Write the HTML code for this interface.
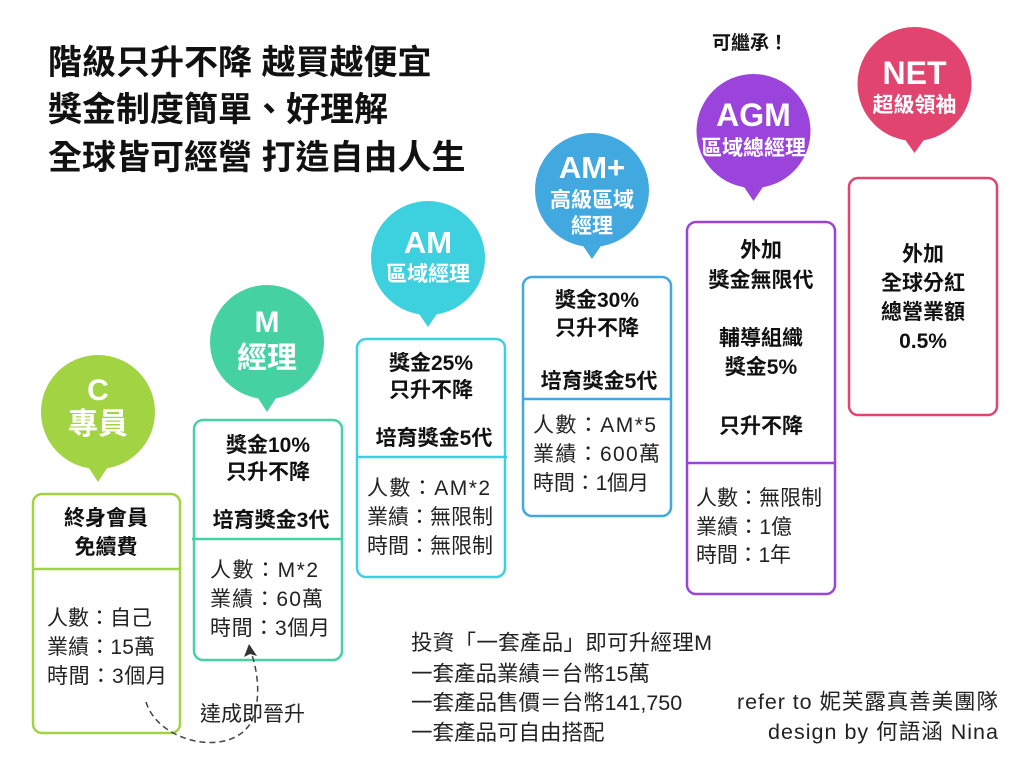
<!DOCTYPE html>
<html>
<head>
<meta charset="utf-8">
<style>
html,body{margin:0;padding:0;background:#fff;}
svg{display:block;}
text{font-family:"Liberation Sans","Noto Sans CJK TC","Noto Sans CJK SC",sans-serif;}
.t{font-weight:700;font-size:34px;fill:#111;}
.bw{font-weight:700;fill:#fff;text-anchor:middle;}
.bb{font-weight:700;font-size:21px;fill:#111;text-anchor:middle;}
.r{font-weight:400;font-size:21px;fill:#222;}
.n{font-weight:400;font-size:21.5px;fill:#222;}
</style>
</head>
<body>
<svg width="1024" height="768" viewBox="0 0 1024 768" xmlns="http://www.w3.org/2000/svg">
<rect width="1024" height="768" fill="#fff"/>

<!-- Title -->
<text class="t" x="48" y="74">階級只升不降 越買越便宜</text>
<text class="t" x="48" y="121">獎金制度簡單、好理解</text>
<text class="t" x="48" y="169">全球皆可經營 打造自由人生</text>

<text x="712" y="49" style="font-weight:700;font-size:19px;fill:#111;">可繼承！</text>

<!-- C -->
<circle cx="98" cy="412" r="57" fill="#a2d343"/>
<polygon points="85,462 111,462 98,482" fill="#a2d343"/>
<text class="bw" x="98" y="400" font-size="30">C</text>
<text class="bw" x="98" y="434" font-size="30">專員</text>
<rect x="33" y="494" width="147" height="239" rx="9" fill="#fff" stroke="#a2d343" stroke-width="2.5"/>
<line x1="33" y1="569" x2="180" y2="569" stroke="#a2d343" stroke-width="2.5"/>
<text class="bb" x="106" y="525">終身會員</text>
<text class="bb" x="106" y="554">免續費</text>
<text class="r" x="47" y="625">人數：自己</text>
<text class="r" x="47" y="654" textLength="108" lengthAdjust="spacing">業績：15萬</text>
<text class="r" x="47" y="683" textLength="120" lengthAdjust="spacing">時間：3個月</text>

<!-- M -->
<circle cx="267" cy="342" r="57" fill="#45d1a2"/>
<polygon points="254,392 280,392 267,412" fill="#45d1a2"/>
<text class="bw" x="267" y="332" font-size="30">M</text>
<text class="bw" x="267" y="368" font-size="30">經理</text>
<rect x="194" y="420" width="148" height="240" rx="9" fill="#fff" stroke="#45d1a2" stroke-width="2.5"/>
<line x1="192" y1="539" x2="342" y2="539" stroke="#45d1a2" stroke-width="2.5"/>
<text class="bb" x="268" y="452">獎金10%</text>
<text class="bb" x="268" y="479">只升不降</text>
<text class="bb" x="271" y="527">培育獎金3代</text>
<text class="r" x="210" y="577" textLength="108" lengthAdjust="spacing">人數：M*2</text>
<text class="r" x="210" y="606" textLength="113" lengthAdjust="spacing">業績：60萬</text>
<text class="r" x="210" y="635" textLength="120" lengthAdjust="spacing">時間：3個月</text>

<!-- AM -->
<circle cx="428" cy="258" r="57" fill="#3dd1e0"/>
<polygon points="415,308 441,308 428,327" fill="#3dd1e0"/>
<text class="bw" x="428" y="253" font-size="31">AM</text>
<text class="bw" x="428" y="281" font-size="21">區域經理</text>
<rect x="357" y="339" width="148" height="238" rx="9" fill="#fff" stroke="#3dd1e0" stroke-width="2.5"/>
<line x1="357" y1="457" x2="507" y2="457" stroke="#3dd1e0" stroke-width="2.5"/>
<text class="bb" x="431" y="370">獎金25%</text>
<text class="bb" x="431" y="397">只升不降</text>
<text class="bb" x="434" y="445">培育獎金5代</text>
<text class="r" x="367" y="495" textLength="123" lengthAdjust="spacing">人數：AM*2</text>
<text class="r" x="367" y="524">業績：無限制</text>
<text class="r" x="367" y="553">時間：無限制</text>

<!-- AM+ -->
<circle cx="592" cy="190" r="57" fill="#42a8e0"/>
<polygon points="579,240 605,240 592,259" fill="#42a8e0"/>
<text class="bw" x="592" y="178" font-size="31">AM+</text>
<text class="bw" x="592" y="207" font-size="21">高級區域</text>
<text class="bw" x="592" y="233" font-size="21">經理</text>
<rect x="523" y="277" width="148" height="239" rx="9" fill="#fff" stroke="#42a8e0" stroke-width="2.5"/>
<line x1="522" y1="399" x2="672" y2="399" stroke="#42a8e0" stroke-width="2.5"/>
<text class="bb" x="597" y="307">獎金30%</text>
<text class="bb" x="597" y="335">只升不降</text>
<text class="bb" x="599" y="388">培育獎金5代</text>
<text class="r" x="533" y="432" textLength="123" lengthAdjust="spacing">人數：AM*5</text>
<text class="r" x="533" y="461" textLength="127" lengthAdjust="spacing">業績：600萬</text>
<text class="r" x="533" y="490" textLength="116" lengthAdjust="spacing">時間：1個月</text>

<!-- AGM -->
<circle cx="753.5" cy="131" r="57" fill="#9b44dc"/>
<polygon points="740,181 767,181 753.5,201" fill="#9b44dc"/>
<text class="bw" x="753.5" y="126" font-size="32">AGM</text>
<text class="bw" x="753.5" y="155" font-size="21">區域總經理</text>
<rect x="687" y="222" width="148" height="372" rx="9" fill="#fff" stroke="#9b44dc" stroke-width="2.5"/>
<line x1="686" y1="463" x2="836" y2="463" stroke="#9b44dc" stroke-width="2.5"/>
<text class="bb" x="761" y="257">外加</text>
<text class="bb" x="761" y="287">獎金無限代</text>
<text class="bb" x="761" y="345">輔導組織</text>
<text class="bb" x="761" y="374">獎金5%</text>
<text class="bb" x="761" y="433">只升不降</text>
<text class="r" x="696" y="505">人數：無限制</text>
<text class="r" x="696" y="534" textLength="96" lengthAdjust="spacing">業績：1億</text>
<text class="r" x="696" y="562" textLength="95" lengthAdjust="spacing">時間：1年</text>

<!-- NET -->
<circle cx="914.5" cy="84" r="57" fill="#e0446f"/>
<polygon points="901,134 928,134 914.5,153" fill="#e0446f"/>
<text class="bw" x="914.5" y="84" font-size="32">NET</text>
<text class="bw" x="914.5" y="112" font-size="21">超級領袖</text>
<rect x="849" y="178" width="148" height="237" rx="9" fill="#fff" stroke="#e0446f" stroke-width="2.5"/>
<text class="bb" x="923" y="261">外加</text>
<text class="bb" x="923" y="290">全球分紅</text>
<text class="bb" x="923" y="319">總營業額</text>
<text class="bb" x="923" y="348">0.5%</text>

<!-- dashed arrow -->
<path d="M146,702 C158,742 228,758 250,724 C262,702 258,672 251,652" fill="none" stroke="#444" stroke-width="1.5" stroke-dasharray="6,4"/>
<polygon points="249,644 244,657 250,654 257,656" fill="#333"/>
<text class="r" x="200" y="721">達成即晉升</text>

<!-- bottom notes -->
<text class="n" x="411" y="650" textLength="301" lengthAdjust="spacing">投資「一套產品」即可升經理M</text>
<text class="n" x="411" y="681">一套產品業績＝台幣15萬</text>
<text class="n" x="411" y="710">一套產品售價＝台幣141,750</text>
<text class="n" x="411" y="740">一套產品可自由搭配</text>
<text class="n" x="737" y="709" textLength="261" lengthAdjust="spacing">refer to 妮芙露真善美團隊</text>
<text class="n" x="768" y="739" textLength="230" lengthAdjust="spacing">design by 何語涵 Nina</text>
</svg>
</body>
</html>
